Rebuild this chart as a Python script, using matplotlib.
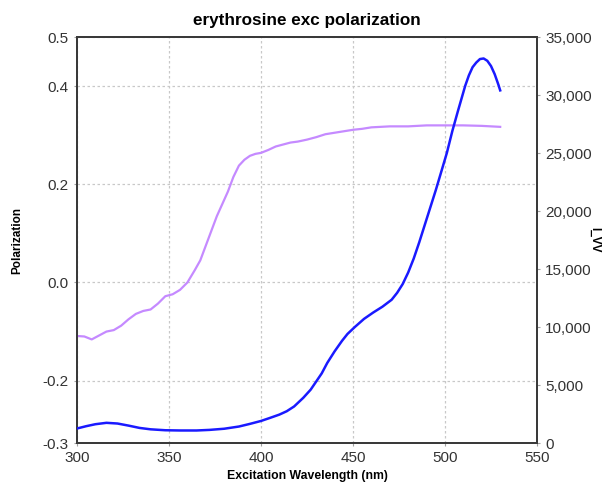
import matplotlib
matplotlib.use("Agg")
import matplotlib.pyplot as plt
from matplotlib.ticker import FuncFormatter

plt.rcParams['font.family'] = ['Liberation Sans', 'DejaVu Sans']

# Polarization (left axis)
pol_wl = [300, 304, 308, 312, 316, 320, 324, 328, 332, 336, 340, 344, 348, 352, 356,
          360, 364, 367, 370, 373, 376, 379, 382, 385, 388, 391, 394, 397, 400, 404,
          408, 412, 416, 420, 425, 430, 435, 440, 445, 450, 455, 460, 470, 480, 490,
          500, 510, 520, 530]
pol_val = [-0.109, -0.110, -0.116, -0.108, -0.100, -0.097, -0.088, -0.075, -0.064, -0.058,
           -0.055, -0.043, -0.028, -0.024, -0.015, 0.000, 0.025, 0.045, 0.075, 0.105,
           0.135, 0.160, 0.185, 0.215, 0.238, 0.250, 0.258, 0.262, 0.264, 0.270,
           0.277, 0.281, 0.285, 0.287, 0.291, 0.296, 0.302, 0.305, 0.308, 0.311,
           0.313, 0.316, 0.318, 0.318, 0.320, 0.320, 0.320, 0.319, 0.317]

# I_VV intensity (right axis)
ivv_wl = [300, 305, 310, 316, 322, 328, 334, 340, 348, 356, 365, 372, 380, 388, 394,
          400, 405, 410, 414, 418, 423, 427, 430, 433, 436, 440, 444, 447, 451, 456,
          461, 466, 471, 474, 477, 480, 483, 486, 489, 492, 495, 498, 501, 504, 507,
          509, 511, 513, 515, 517, 519, 521, 523, 525, 527, 529, 530]
ivv_val = [1250, 1450, 1620, 1740, 1680, 1500, 1300, 1180, 1100, 1080, 1080, 1130, 1230,
           1420, 1650, 1900, 2170, 2450, 2740, 3150, 3900, 4600, 5300, 6000, 6900, 7900,
           8800, 9400, 10000, 10700, 11250, 11750, 12350, 12950, 13700, 14700, 15900,
           17300, 18800, 20300, 21800, 23400, 25000, 26900, 28600, 29700, 30800, 31700,
           32400, 32800, 33100, 33150, 32950, 32500, 31800, 30900, 30400]

x_ticks = [300, 350, 400, 450, 500, 550]
y_lim = (-0.327, 0.5)
y_ticks = [-0.327, -0.2, 0.0, 0.2, 0.4, 0.5]
y_tick_labels = ['-0.3', '-0.2', '0.0', '0.2', '0.4', '0.5']
r_ticks = [0, 5000, 10000, 15000, 20000, 25000, 30000, 35000]

fig = plt.figure(figsize=(6.13, 4.82), dpi=100)
ax = fig.add_axes([0.1256, 0.0809, 0.7504, 0.8423])
ax2 = ax.twinx()

spine_color = '#3a3a3a'

ax.plot(pol_wl, pol_val, color='#c58aff', lw=1.6, zorder=3)
ax2.plot(ivv_wl, ivv_val, color='#1a1aff', lw=1.8, zorder=3)

ax.set_xlim(300, 550)
ax.set_ylim(*y_lim)
ax2.set_ylim(0, 35000)
ax.set_xticks(x_ticks)
ax.set_yticks(y_ticks)
ax.set_yticklabels(y_tick_labels)
ax2.set_yticks(r_ticks)
ax2.yaxis.set_major_formatter(FuncFormatter(lambda v, p: f"{int(v):,}"))

ax.grid(True, color='#c8c8c8', linestyle=(0, (2, 2)), lw=0.9)
ax.set_axisbelow(True)

for a in (ax, ax2):
    for s in a.spines.values():
        s.set_color(spine_color)
        s.set_linewidth(1.4)
    a.tick_params(colors='#a0a0a0', labelsize=11, length=2, width=0.8,
                  labelcolor='#333333', pad=4)

ax.set_title('erythrosine exc polarization', fontsize=12.3, fontweight='bold', pad=9)
ax.set_xlabel('Excitation Wavelength (nm)', fontsize=8.8, fontweight='bold', labelpad=3)
ax.set_ylabel('Polarization', fontsize=8.5, fontweight='bold', labelpad=14)
ax2.set_ylabel('I_VV', fontsize=8.5, fontweight='bold', rotation=270, labelpad=6)

fig.savefig('out.png', dpi=100)
